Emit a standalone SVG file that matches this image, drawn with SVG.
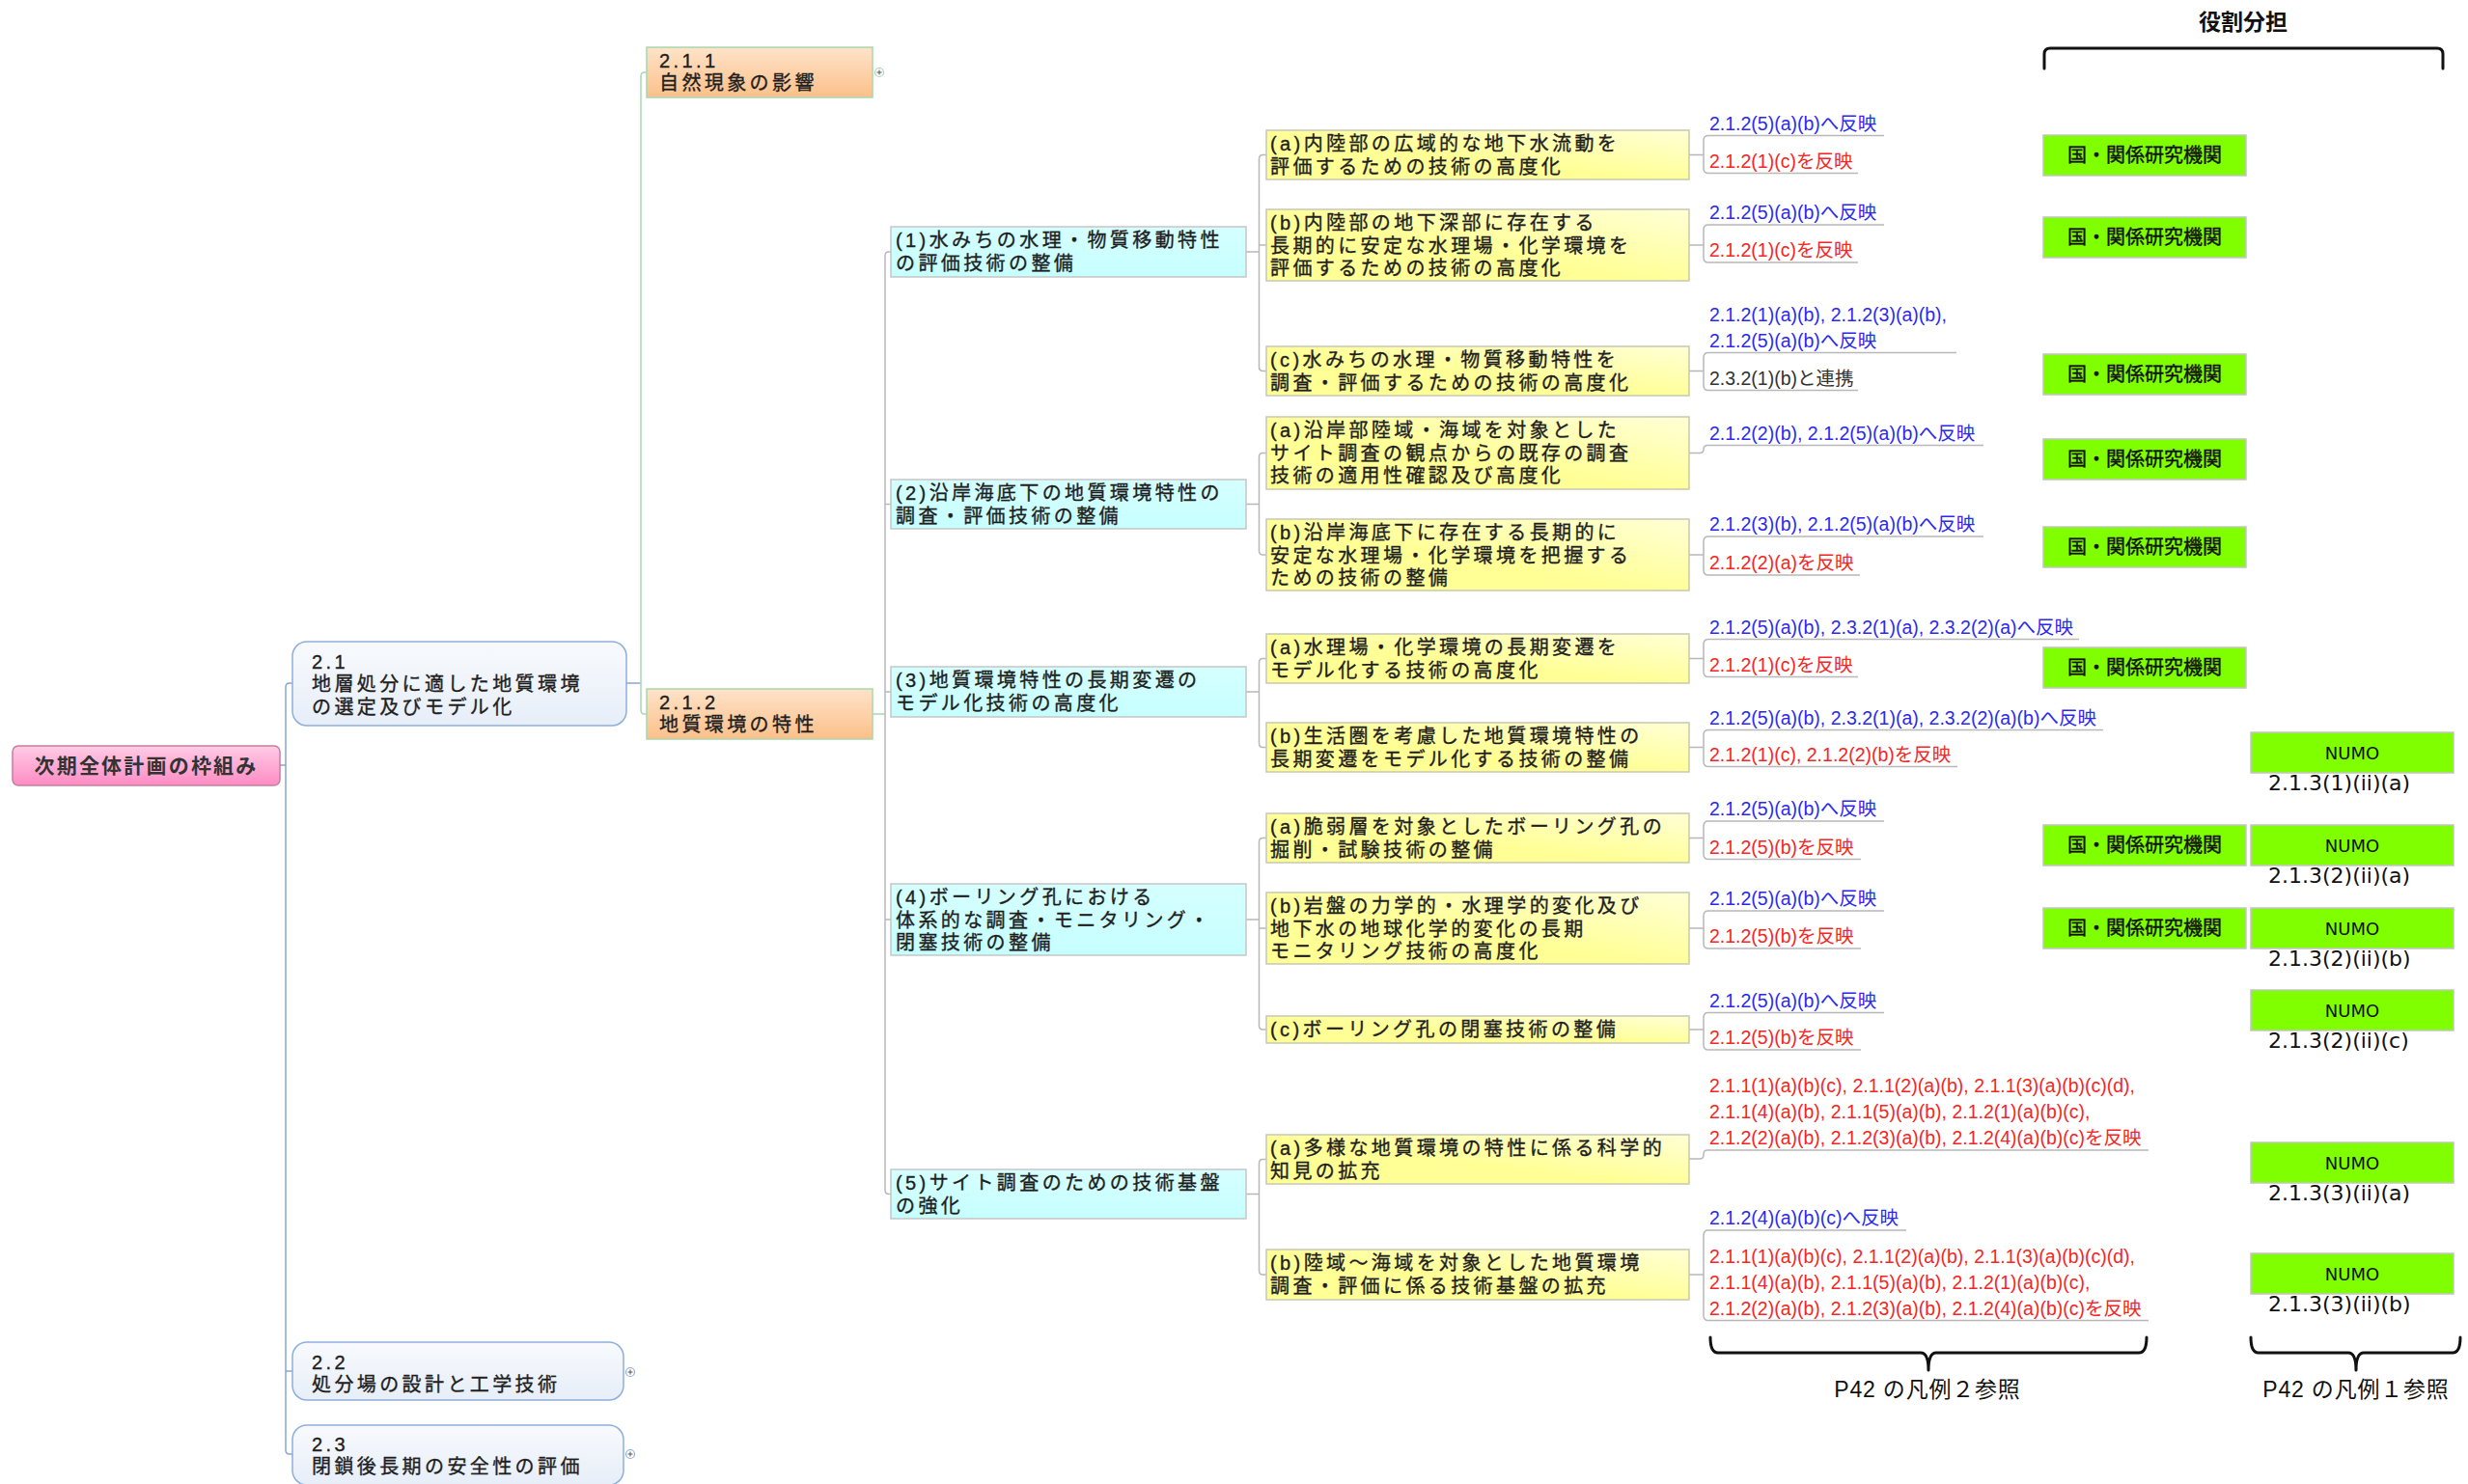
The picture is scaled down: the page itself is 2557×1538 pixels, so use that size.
<svg xmlns="http://www.w3.org/2000/svg" width="2557" height="1538" viewBox="0 0 2557 1538">
<defs>
<style>
.bx{font-family:"Liberation Sans","Noto Sans CJK JP",sans-serif;font-size:20px;letter-spacing:3.4px;fill:#1e1e1e;stroke:#1e1e1e;stroke-width:0.35px}
.rt{font-family:"Liberation Sans","Noto Sans CJK JP",sans-serif;font-size:21px;letter-spacing:2.2px;font-weight:bold;fill:#333}
.lb{font-family:"Liberation Sans","Noto Sans CJK JP",sans-serif;font-size:19.5px}
.bl{fill:#2b2bf0}.rd{fill:#f52626}.bk{fill:#333}
.gt{font-family:"Noto Sans CJK JP",sans-serif;font-size:20px;fill:#111;stroke:#111;stroke-width:0.4px;text-anchor:middle}
.nt{font-family:"DejaVu Sans",sans-serif;font-size:18px;fill:#111;text-anchor:middle}
.num{font-family:"DejaVu Sans",sans-serif;font-size:22px;fill:#111}
.ft{font-family:"Liberation Sans","Noto Sans CJK JP",sans-serif;font-size:23px;letter-spacing:0.8px;fill:#111;text-anchor:middle}
.cy{fill:url(#gCy);stroke:#c6c6c6;stroke-width:1.5}
.ye{fill:url(#gYe);stroke:#c8c8b4;stroke-width:1.5}
.gb{fill:#7fff00;stroke:#c4c4c4;stroke-width:1.5}
.or{fill:url(#gOr);stroke:#a8d8ac;stroke-width:1.5}
.b2{fill:url(#gB2);stroke:#8eaedb;stroke-width:1.5}
.c1{fill:none;stroke:#86a6d4;stroke-width:1.5}
.c2{fill:none;stroke:#a6d8b2;stroke-width:1.5}
.c3{fill:none;stroke:#b8b8b8;stroke-width:1.5}
.br{fill:none;stroke:#111;stroke-width:3;stroke-linecap:round;stroke-linejoin:round}
.ex{fill:#fff;stroke-width:1.2}
</style>
<linearGradient id="gRoot" x1="0" y1="0" x2="0" y2="1"><stop offset="0" stop-color="#ffcce5"/><stop offset="1" stop-color="#ff8cc4"/></linearGradient>
<linearGradient id="gB2" x1="0" y1="0" x2="0" y2="1"><stop offset="0" stop-color="#f8fafd"/><stop offset="1" stop-color="#e7eef8"/></linearGradient>
<linearGradient id="gOr" x1="0" y1="0" x2="0" y2="1"><stop offset="0" stop-color="#fee3c9"/><stop offset="1" stop-color="#fcc08a"/></linearGradient>
<linearGradient id="gYe" x1="0" y1="1" x2="1" y2="0"><stop offset="0.45" stop-color="#ffff96"/><stop offset="1" stop-color="#ffffd6"/></linearGradient>
<linearGradient id="gCy" x1="0" y1="0" x2="0" y2="1"><stop offset="0" stop-color="#d6ffff"/><stop offset="1" stop-color="#c6ffff"/></linearGradient>
</defs>
<rect width="2557" height="1538" fill="#ffffff"/>

<g id="connectors">
<path class="c1" d="M290 793 H296 M303 708 H300 Q296 708 296 712 V1503 Q296 1507 300 1507 H303 M296 1421 H303"/>
<path class="c1" d="M649 708 H664"/>
<path class="c2" d="M670 75 H668 Q664 75 664 79 V736 Q664 740 668 740 H670"/>
<path class="c2" d="M904 740 H917"/>
<path class="c3" d="M923 261 H921 Q917 261 917 265 V1233.5 Q917 1237.5 921 1237.5 H923 M917 522.5 H923 M917 717 H923 M917 953 H923"/>
<path class="c3" d="M1291 261 H1304.5 M1312 160.5 H1308.5 Q1304.5 160.5 1304.5 164.5 V380.5 Q1304.5 384.5 1308.5 384.5 H1312 M1304.5 254 H1312"/>
<path class="c3" d="M1291 522.5 H1304.5 M1312 469.5 H1308.5 Q1304.5 469.5 1304.5 473.5 V571 Q1304.5 575 1308.5 575 H1312"/>
<path class="c3" d="M1291 717 H1304.5 M1312 682.5 H1308.5 Q1304.5 682.5 1304.5 686.5 V770.5 Q1304.5 774.5 1308.5 774.5 H1312"/>
<path class="c3" d="M1291 953 H1304.5 M1312 868.5 H1308.5 Q1304.5 868.5 1304.5 872.5 V1063 Q1304.5 1067 1308.5 1067 H1312 M1304.5 962 H1312"/>
<path class="c3" d="M1291 1237.5 H1304.5 M1312 1201.5 H1308.5 Q1304.5 1201.5 1304.5 1205.5 V1317 Q1304.5 1321 1308.5 1321 H1312"/>
<path class="c3" d="M1750 160.5 H1765 M1952 140.5 H1770 Q1765 140.5 1765 145.5 V174.5 Q1765 179.5 1770 179.5 H1925"/>
<path class="c3" d="M1750 254 H1765 M1952 233 H1770 Q1765 233 1765 238 V267 Q1765 272 1770 272 H1925"/>
<path class="c3" d="M1750 384.5 H1765 M2027 365.5 H1770 Q1765 365.5 1765 370.5 V399.5 Q1765 404.5 1770 404.5 H1925"/>
<path class="c3" d="M1750 469.5 H1761 Q1765 469.5 1765 465.5 Q1765 461.5 1769 461.5 H2055"/>
<path class="c3" d="M1750 575 H1765 M2055 556 H1770 Q1765 556 1765 561 V591 Q1765 596 1770 596 H1927"/>
<path class="c3" d="M1750 682.5 H1765 M2154 662.5 H1770 Q1765 662.5 1765 667.5 V696.5 Q1765 701.5 1770 701.5 H1925"/>
<path class="c3" d="M1750 774.5 H1765 M2179 756.5 H1770 Q1765 756.5 1765 761.5 V789.5 Q1765 794.5 1770 794.5 H2028"/>
<path class="c3" d="M1750 868.5 H1765 M1952 851 H1770 Q1765 851 1765 856 V885.5 Q1765 890.5 1770 890.5 H1928"/>
<path class="c3" d="M1750 962 H1765 M1952 944 H1770 Q1765 944 1765 949 V978 Q1765 983 1770 983 H1928"/>
<path class="c3" d="M1750 1067 H1765 M1952 1049.5 H1770 Q1765 1049.5 1765 1054.5 V1083 Q1765 1088 1770 1088 H1928"/>
<path class="c3" d="M1750 1201 H1761 Q1765 1201 1765 1197 V1196 Q1765 1192 1769 1192 H2226"/>
<path class="c3" d="M1750 1321 H1765 M1975 1275 H1770 Q1765 1275 1765 1280 V1363.5 Q1765 1368.5 1770 1368.5 H2226"/>
</g>

<g id="node-root">
<rect x="13" y="773" width="277" height="41" rx="6" fill="url(#gRoot)" stroke="#c27f9f" stroke-width="1.5"/>
<text class="rt" x="151.5" y="801" text-anchor="middle">次期全体計画の枠組み</text>
</g>
<g id="node-2-1">
<rect class="b2" x="303" y="665" width="346" height="87" rx="15"/>
<text class="bx"><tspan x="323" y="693">2.1</tspan><tspan x="323" y="716">地層処分に適した地質環境</tspan><tspan x="323" y="740">の選定及びモデル化</tspan></text>
</g>
<g id="node-2-2">
<rect class="b2" x="303" y="1391" width="343" height="60" rx="15"/>
<text class="bx"><tspan x="323" y="1419">2.2</tspan><tspan x="323" y="1442">処分場の設計と工学技術</tspan></text>
<circle class="ex" cx="653" cy="1422" r="4.5" stroke="#8eaedb"/><path d="M650.5 1422 H655.5 M653 1419.5 V1424.5" stroke="#555" stroke-width="1"/>
</g>
<g id="node-2-3">
<rect class="b2" x="303" y="1477" width="343" height="62" rx="15"/>
<text class="bx"><tspan x="323" y="1504">2.3</tspan><tspan x="323" y="1527">閉鎖後長期の安全性の評価</tspan></text>
<circle class="ex" cx="653" cy="1507" r="4.5" stroke="#8eaedb"/><path d="M650.5 1507 H655.5 M653 1504.5 V1509.5" stroke="#555" stroke-width="1"/>
</g>
<g id="node-2-1-1">
<rect class="or" x="670" y="49" width="234" height="52"/>
<text class="bx"><tspan x="683" y="70">2.1.1</tspan><tspan x="683" y="93">自然現象の影響</tspan></text>
<circle class="ex" cx="911" cy="75" r="4.5" stroke="#a6d8b2"/><path d="M908.5 75 H913.5 M911 72.5 V77.5" stroke="#555" stroke-width="1"/>
</g>
<g id="node-2-1-2">
<rect class="or" x="670" y="714" width="234" height="52"/>
<text class="bx"><tspan x="683" y="735">2.1.2</tspan><tspan x="683" y="758">地質環境の特性</tspan></text>
</g>

<g id="node-c1"><rect class="cy" x="923" y="235" width="368" height="52"/>
<text class="bx"><tspan x="928" y="256">(1)水みちの水理・物質移動特性</tspan><tspan x="928" y="279.5">の評価技術の整備</tspan></text></g>
<g id="node-c2"><rect class="cy" x="923" y="497" width="368" height="51"/>
<text class="bx"><tspan x="928" y="518">(2)沿岸海底下の地質環境特性の</tspan><tspan x="928" y="541.5">調査・評価技術の整備</tspan></text></g>
<g id="node-c3"><rect class="cy" x="923" y="691" width="368" height="52"/>
<text class="bx"><tspan x="928" y="712">(3)地質環境特性の長期変遷の</tspan><tspan x="928" y="735.5">モデル化技術の高度化</tspan></text></g>
<g id="node-c4"><rect class="cy" x="923" y="916" width="368" height="74"/>
<text class="bx"><tspan x="928" y="937">(4)ボーリング孔における</tspan><tspan x="928" y="960.5">体系的な調査・モニタリング・</tspan><tspan x="928" y="984">閉塞技術の整備</tspan></text></g>
<g id="node-c5"><rect class="cy" x="923" y="1212" width="368" height="51"/>
<text class="bx"><tspan x="928" y="1233">(5)サイト調査のための技術基盤</tspan><tspan x="928" y="1256.5">の強化</tspan></text></g>

<g id="node-1a"><rect class="ye" x="1312" y="135" width="438" height="51"/>
<text class="bx"><tspan x="1316" y="156">(a)内陸部の広域的な地下水流動を</tspan><tspan x="1316" y="179.5">評価するための技術の高度化</tspan></text></g>
<g id="node-1b"><rect class="ye" x="1312" y="217" width="438" height="74"/>
<text class="bx"><tspan x="1316" y="238">(b)内陸部の地下深部に存在する</tspan><tspan x="1316" y="261.5">長期的に安定な水理場・化学環境を</tspan><tspan x="1316" y="285">評価するための技術の高度化</tspan></text></g>
<g id="node-1c"><rect class="ye" x="1312" y="359" width="438" height="51"/>
<text class="bx"><tspan x="1316" y="380">(c)水みちの水理・物質移動特性を</tspan><tspan x="1316" y="403.5">調査・評価するための技術の高度化</tspan></text></g>
<g id="node-2a"><rect class="ye" x="1312" y="432" width="438" height="75"/>
<text class="bx"><tspan x="1316" y="453">(a)沿岸部陸域・海域を対象とした</tspan><tspan x="1316" y="476.5">サイト調査の観点からの既存の調査</tspan><tspan x="1316" y="500">技術の適用性確認及び高度化</tspan></text></g>
<g id="node-2b"><rect class="ye" x="1312" y="538" width="438" height="74"/>
<text class="bx"><tspan x="1316" y="559">(b)沿岸海底下に存在する長期的に</tspan><tspan x="1316" y="582.5">安定な水理場・化学環境を把握する</tspan><tspan x="1316" y="606">ための技術の整備</tspan></text></g>
<g id="node-3a"><rect class="ye" x="1312" y="657" width="438" height="51"/>
<text class="bx"><tspan x="1316" y="678">(a)水理場・化学環境の長期変遷を</tspan><tspan x="1316" y="701.5">モデル化する技術の高度化</tspan></text></g>
<g id="node-3b"><rect class="ye" x="1312" y="749" width="438" height="51"/>
<text class="bx"><tspan x="1316" y="770">(b)生活圏を考慮した地質環境特性の</tspan><tspan x="1316" y="793.5">長期変遷をモデル化する技術の整備</tspan></text></g>
<g id="node-4a"><rect class="ye" x="1312" y="843" width="438" height="51"/>
<text class="bx"><tspan x="1316" y="864">(a)脆弱層を対象としたボーリング孔の</tspan><tspan x="1316" y="887.5">掘削・試験技術の整備</tspan></text></g>
<g id="node-4b"><rect class="ye" x="1312" y="925" width="438" height="74"/>
<text class="bx"><tspan x="1316" y="946">(b)岩盤の力学的・水理学的変化及び</tspan><tspan x="1316" y="969.5">地下水の地球化学的変化の長期</tspan><tspan x="1316" y="993">モニタリング技術の高度化</tspan></text></g>
<g id="node-4c"><rect class="ye" x="1312" y="1053" width="438" height="28"/>
<text class="bx" x="1316" y="1074">(c)ボーリング孔の閉塞技術の整備</text></g>
<g id="node-5a"><rect class="ye" x="1312" y="1176" width="438" height="51"/>
<text class="bx"><tspan x="1316" y="1197">(a)多様な地質環境の特性に係る科学的</tspan><tspan x="1316" y="1220.5">知見の拡充</tspan></text></g>
<g id="node-5b"><rect class="ye" x="1312" y="1295" width="438" height="52"/>
<text class="bx"><tspan x="1316" y="1316">(b)陸域～海域を対象とした地質環境</tspan><tspan x="1316" y="1339.5">調査・評価に係る技術基盤の拡充</tspan></text></g>

<g id="labels" class="lb">
<g id="lab-1a"><text class="bl" x="1771" y="134.5">2.1.2(5)(a)(b)へ反映</text><text class="rd" x="1771" y="173.5">2.1.2(1)(c)を反映</text></g>
<g id="lab-1b"><text class="bl" x="1771" y="227">2.1.2(5)(a)(b)へ反映</text><text class="rd" x="1771" y="266">2.1.2(1)(c)を反映</text></g>
<g id="lab-1c"><text class="bl"><tspan x="1771" y="333">2.1.2(1)(a)(b), 2.1.2(3)(a)(b),</tspan><tspan x="1771" y="359.5">2.1.2(5)(a)(b)へ反映</tspan></text><text class="bk" x="1771" y="398.5">2.3.2(1)(b)と連携</text></g>
<g id="lab-2a"><text class="bl" x="1771" y="455.5">2.1.2(2)(b), 2.1.2(5)(a)(b)へ反映</text></g>
<g id="lab-2b"><text class="bl" x="1771" y="550">2.1.2(3)(b), 2.1.2(5)(a)(b)へ反映</text><text class="rd" x="1771" y="590">2.1.2(2)(a)を反映</text></g>
<g id="lab-3a"><text class="bl" x="1771" y="656.5">2.1.2(5)(a)(b), 2.3.2(1)(a), 2.3.2(2)(a)へ反映</text><text class="rd" x="1771" y="695.5">2.1.2(1)(c)を反映</text></g>
<g id="lab-3b"><text class="bl" x="1771" y="750.5">2.1.2(5)(a)(b), 2.3.2(1)(a), 2.3.2(2)(a)(b)へ反映</text><text class="rd" x="1771" y="788.5">2.1.2(1)(c), 2.1.2(2)(b)を反映</text></g>
<g id="lab-4a"><text class="bl" x="1771" y="845">2.1.2(5)(a)(b)へ反映</text><text class="rd" x="1771" y="884.5">2.1.2(5)(b)を反映</text></g>
<g id="lab-4b"><text class="bl" x="1771" y="938">2.1.2(5)(a)(b)へ反映</text><text class="rd" x="1771" y="977">2.1.2(5)(b)を反映</text></g>
<g id="lab-4c"><text class="bl" x="1771" y="1043.5">2.1.2(5)(a)(b)へ反映</text><text class="rd" x="1771" y="1082">2.1.2(5)(b)を反映</text></g>
<g id="lab-5a"><text class="rd"><tspan x="1771" y="1132">2.1.1(1)(a)(b)(c), 2.1.1(2)(a)(b), 2.1.1(3)(a)(b)(c)(d),</tspan><tspan x="1771" y="1159">2.1.1(4)(a)(b), 2.1.1(5)(a)(b), 2.1.2(1)(a)(b)(c),</tspan><tspan x="1771" y="1186">2.1.2(2)(a)(b), 2.1.2(3)(a)(b), 2.1.2(4)(a)(b)(c)を反映</tspan></text></g>
<g id="lab-5b"><text class="bl" x="1771" y="1269">2.1.2(4)(a)(b)(c)へ反映</text><text class="rd"><tspan x="1771" y="1308.5">2.1.1(1)(a)(b)(c), 2.1.1(2)(a)(b), 2.1.1(3)(a)(b)(c)(d),</tspan><tspan x="1771" y="1335.5">2.1.1(4)(a)(b), 2.1.1(5)(a)(b), 2.1.2(1)(a)(b)(c),</tspan><tspan x="1771" y="1362.5">2.1.2(2)(a)(b), 2.1.2(3)(a)(b), 2.1.2(4)(a)(b)(c)を反映</tspan></text></g>
</g>

<g id="role-header">
<text x="2324" y="31" font-family="'Noto Sans CJK JP',sans-serif" font-size="23" font-weight="bold" fill="#111" text-anchor="middle">役割分担</text>
<path class="br" d="M2118 71 V56 Q2118 50 2124 50 H2525 Q2531 50 2531 56 V71" stroke-width="4"/>
</g>

<g id="roles-kuni">
<g id="kuni-1a"><rect class="gb" x="2117" y="140" width="210" height="42"/><text class="gt" x="2222" y="168">国・関係研究機関</text></g>
<g id="kuni-1b"><rect class="gb" x="2117" y="225" width="210" height="42"/><text class="gt" x="2222" y="253">国・関係研究機関</text></g>
<g id="kuni-1c"><rect class="gb" x="2117" y="367" width="210" height="42"/><text class="gt" x="2222" y="395">国・関係研究機関</text></g>
<g id="kuni-2a"><rect class="gb" x="2117" y="455" width="210" height="42"/><text class="gt" x="2222" y="483">国・関係研究機関</text></g>
<g id="kuni-2b"><rect class="gb" x="2117" y="546" width="210" height="42"/><text class="gt" x="2222" y="574">国・関係研究機関</text></g>
<g id="kuni-3a"><rect class="gb" x="2117" y="671" width="210" height="42"/><text class="gt" x="2222" y="699">国・関係研究機関</text></g>
<g id="kuni-4a"><rect class="gb" x="2117" y="855" width="210" height="42"/><text class="gt" x="2222" y="883">国・関係研究機関</text></g>
<g id="kuni-4b"><rect class="gb" x="2117" y="941" width="210" height="42"/><text class="gt" x="2222" y="969">国・関係研究機関</text></g>
</g>

<g id="roles-numo">
<g id="numo-3b"><rect class="gb" x="2332" y="759" width="210" height="42"/><text class="nt" x="2437" y="787">NUMO</text><text class="num" x="2350" y="819">2.1.3(1)(ii)(a)</text></g>
<g id="numo-4a"><rect class="gb" x="2332" y="855" width="210" height="42"/><text class="nt" x="2437" y="883">NUMO</text><text class="num" x="2350" y="915">2.1.3(2)(ii)(a)</text></g>
<g id="numo-4b"><rect class="gb" x="2332" y="941" width="210" height="42"/><text class="nt" x="2437" y="969">NUMO</text><text class="num" x="2350" y="1001">2.1.3(2)(ii)(b)</text></g>
<g id="numo-4c"><rect class="gb" x="2332" y="1026" width="210" height="42"/><text class="nt" x="2437" y="1054">NUMO</text><text class="num" x="2350" y="1086">2.1.3(2)(ii)(c)</text></g>
<g id="numo-5a"><rect class="gb" x="2332" y="1184" width="210" height="42"/><text class="nt" x="2437" y="1212">NUMO</text><text class="num" x="2350" y="1244">2.1.3(3)(ii)(a)</text></g>
<g id="numo-5b"><rect class="gb" x="2332" y="1299" width="210" height="42"/><text class="nt" x="2437" y="1327">NUMO</text><text class="num" x="2350" y="1359">2.1.3(3)(ii)(b)</text></g>
</g>

<g id="legend">
<path class="br" d="M1772 1386 Q1772 1402 1780 1402 H1990 Q1998 1402 1998 1420 Q1998 1402 2006 1402 H2216 Q2224 1402 2224 1386"/>
<text class="ft" x="1997" y="1448">P42 の凡例２参照</text>
<path class="br" d="M2332 1386 Q2332 1402 2340 1402 H2433 Q2441 1402 2441 1420 Q2441 1402 2449 1402 H2541 Q2549 1402 2549 1386"/>
<text class="ft" x="2441" y="1448">P42 の凡例１参照</text>
</g>
</svg>
